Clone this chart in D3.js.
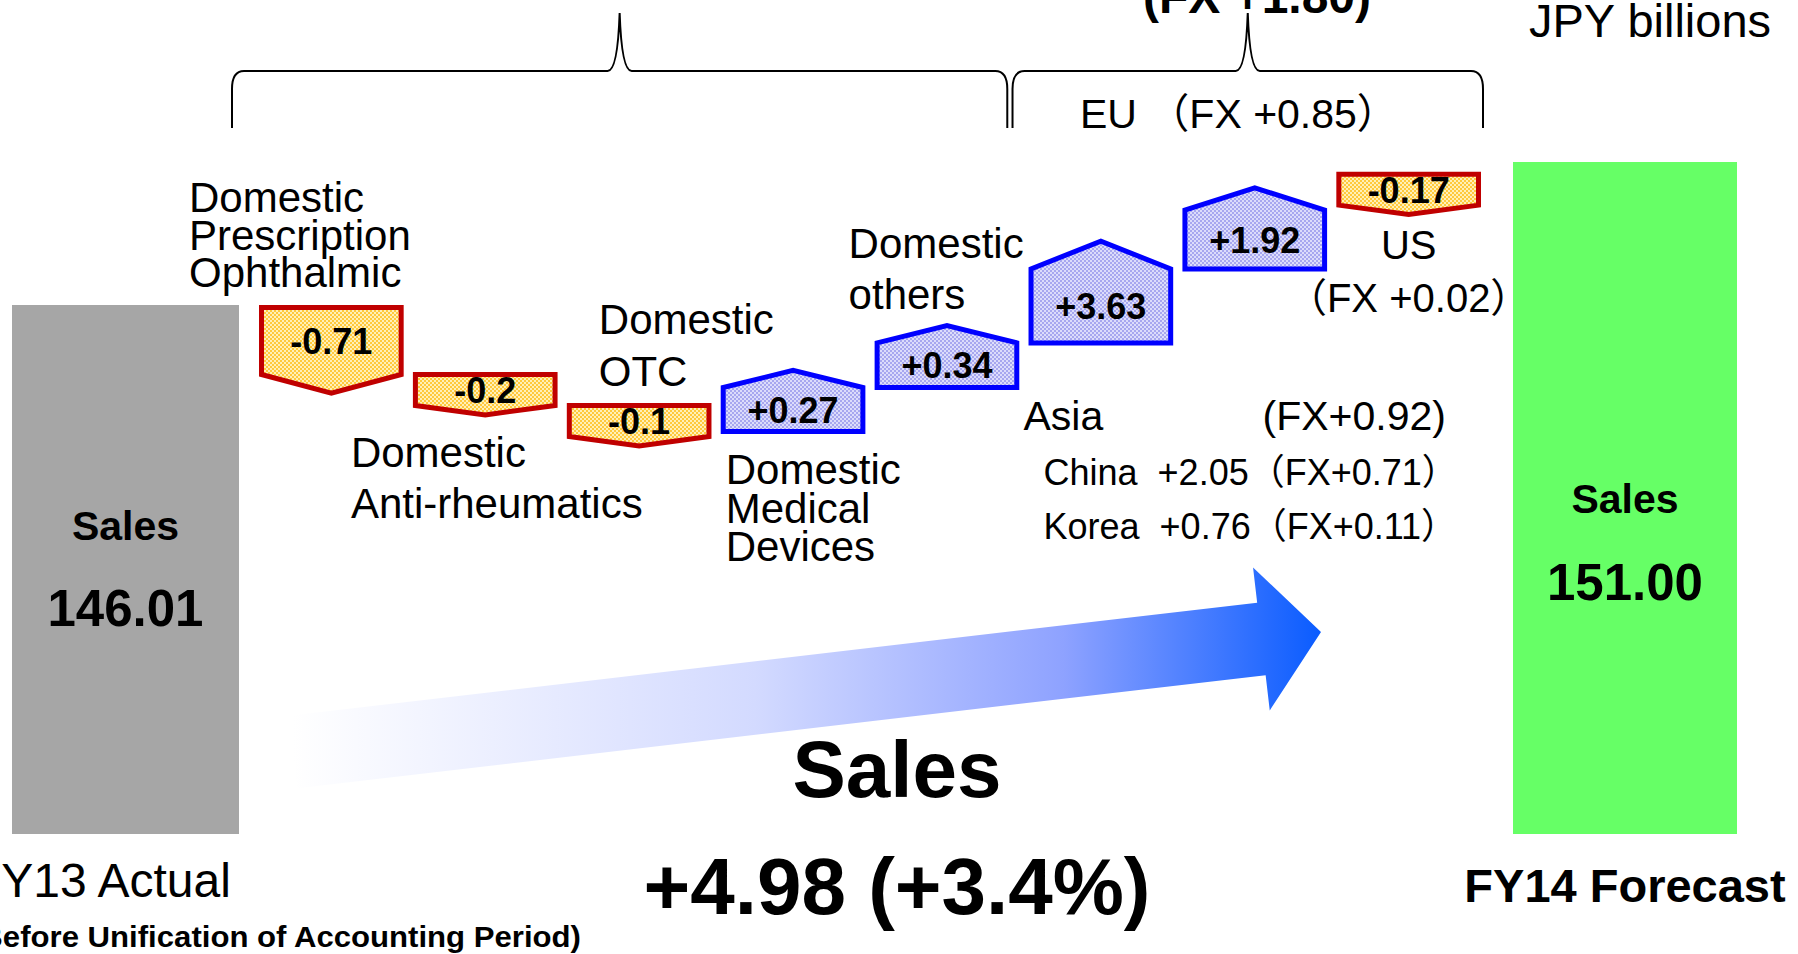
<!DOCTYPE html>
<html>
<head>
<meta charset="utf-8">
<title>Sales FY13 Actual to FY14 Forecast</title>
<script src="https://cdn.jsdelivr.net/npm/d3@7"></script>
<style>
  html, body { margin: 0; padding: 0; background: #fff; overflow: hidden; }
  svg { display: block; font-family: "Liberation Sans", Arial, "Noto Sans CJK JP", sans-serif; }
</style>
</head>
<body>
<script>
// values in JPY billions
var startName = "FY13 Actual", endName = "FY14 Forecast";
var startNote = "(Before Unification of Accounting Period)";
var startValue = 146.01, endValue = 151.00;
var totalLabel = "Sales";
var changeText = "+4.98 (+3.4%)";
var unitText = "JPY billions";

var categories = ["Ophthalmic", "Anti-rheumatics", "OTC", "Medical Devices", "Others", "Asia", "EU", "US"];
var deltas = [-0.71, -0.2, -0.1, 0.27, 0.34, 3.63, 1.92, -0.17];
var deltaText = ["-0.71", "-0.2", "-0.1", "+0.27", "+0.34", "+3.63", "+1.92", "-0.17"];
var catLines = [
  ["Domestic", "Prescription", "Ophthalmic"],
  ["Domestic", "Anti-rheumatics"],
  ["Domestic", "OTC"],
  ["Domestic", "Medical", "Devices"],
  ["Domestic", "others"],
  [],
  [],
  ["US", "（FX +0.02）"]
];
var asiaHead = ["Asia", "(FX+0.92)"];
var asiaBreakdown = ["China\u00a0\u00a0+2.05（FX+0.71）", "Korea\u00a0\u00a0+0.76（FX+0.11）"];
var euText = "EU\u00a0（FX +0.85）";
var overseasFx = "(FX +1.80)";

// ---- layout ----
var W = 1798, H = 954;
var svg = d3.select("body").append("svg").attr("width", W).attr("height", H);
var defs = svg.append("defs");

function checker(id, bg, fg) {
  var p = defs.append("pattern").attr("id", id).attr("width", 4).attr("height", 4)
    .attr("patternUnits", "userSpaceOnUse");
  p.append("rect").attr("width", 4).attr("height", 4).attr("fill", bg);
  p.append("rect").attr("width", 2).attr("height", 2).attr("fill", fg);
  p.append("rect").attr("x", 2).attr("y", 2).attr("width", 2).attr("height", 2).attr("fill", fg);
}
checker("negFill", "#fff0b8", "#ffc93c");
checker("posFill", "#dcdcfb", "#a7a7ef");

var grad = defs.append("linearGradient").attr("id", "arrowGrad")
  .attr("gradientUnits", "userSpaceOnUse").attr("x1", 293).attr("x2", 1321).attr("y1", 0).attr("y2", 0);
[[0, "#ffffff"], [0.45, "#d3daff"], [0.75, "#8ea2ff"], [1, "#0a5cff"]].forEach(function(s) {
  grad.append("stop").attr("offset", s[0]).attr("stop-color", s[1]);
});

var y = d3.scaleLinear().domain([startValue, endValue]).range([305, 162]);
var floorY = 834;
var x = d3.scaleBand().domain(categories).range([259, 1481]).paddingInner(0.06);
var bw = x.bandwidth();
var hNeg = d3.scaleLinear().domain([0.2, 0.71]).range([36, 72]).clamp(true);
var hPos = d3.scaleLinear().domain([0.27, 3.63]).range([49, 79]);
var overlap = 5, sw = 5;

// big arrow behind everything
(function() {
  var T = [293, 752], P = [1321, 632];
  var len = Math.hypot(P[0] - T[0], P[1] - T[1]);
  var u = [(P[0] - T[0]) / len, (P[1] - T[1]) / len], n = [-u[1], u[0]];
  var headLen = 60, shaftHalf = 36.5, headHalf = 72;
  var B = [P[0] - headLen * u[0], P[1] - headLen * u[1]];
  function at(p, k) { return [p[0] + k * n[0], p[1] + k * n[1]]; }
  var pts = [at(T, -shaftHalf), at(B, -shaftHalf), at(B, -headHalf), P, at(B, headHalf), at(B, shaftHalf), at(T, shaftHalf)];
  svg.append("path").attr("d", d3.line()(pts) + "Z").attr("fill", "url(#arrowGrad)");
})();

// total bars
var totals = [
  {name: startName, value: startValue, x0: 12, x1: 239, color: "#a6a6a6", labelY: 540, valueY: 626},
  {name: endName, value: endValue, x0: 1513, x1: 1737, color: "#66ff66", labelY: 513, valueY: 600}
];
svg.selectAll("rect.total").data(totals).enter().append("rect").attr("class", "total")
  .attr("x", function(d) { return d.x0; })
  .attr("y", function(d) { return y(d.value); })
  .attr("width", function(d) { return d.x1 - d.x0; })
  .attr("height", function(d) { return floorY - y(d.value); })
  .attr("fill", function(d) { return d.color; });
totals.forEach(function(d) {
  var cx = (d.x0 + d.x1) / 2;
  svg.append("text").attr("x", cx).attr("y", d.labelY)
    .attr("text-anchor", "middle").attr("font-weight", "bold").attr("font-size", 41).text(totalLabel);
  svg.append("text").attr("x", cx).attr("y", d.valueY)
    .attr("text-anchor", "middle").attr("font-weight", "bold").attr("font-size", 51).text(d.value.toFixed(2));
});
svg.append("text").attr("x", -28).attr("y", 897).attr("font-size", 48).text(startName);
svg.append("text").attr("x", -30).attr("y", 947).attr("font-size", 29).attr("font-weight", "bold")
  .attr("textLength", 611).attr("lengthAdjust", "spacingAndGlyphs").text(startNote);
svg.append("text").attr("x", 1625).attr("y", 902).attr("text-anchor", "middle")
  .attr("font-size", 47).attr("font-weight", "bold").text(endName);

// step shapes, chained from the start bar
var level = y(startValue), steps = [];
deltas.forEach(function(v, i) {
  var neg = v < 0, h = neg ? hNeg(-v) : hPos(v);
  var s = {cat: categories[i], v: v, txt: deltaText[i], h: h, tip: h * (neg ? 0.26 : 0.35), x0: x(categories[i])};
  var prev = i > 0 ? deltas[i - 1] : 0;
  if (neg && prev > 0) {          // a drop after a rise rests on the last top
    s.y1 = level; s.y0 = level - h;
  } else if (neg) {
    s.y0 = i === 0 ? level : level - overlap; s.y1 = s.y0 + h; level = s.y1;
  } else {
    s.y1 = prev < 0 ? level - overlap : level + overlap; s.y0 = s.y1 - h; level = s.y0;
  }
  steps.push(s);
});

function shapePath(s) {
  var a = s.x0 + sw / 2, b = s.x0 + bw - sw / 2, c = s.x0 + bw / 2;
  var t = s.y0 + sw / 2, u = s.y1 - sw / 2;
  if (s.v < 0) return d3.line()([[a, t], [b, t], [b, u], [c, u + s.tip], [a, u]]) + "Z";
  return d3.line()([[a, u], [b, u], [b, t], [c, t - s.tip], [a, t]]) + "Z";
}
svg.selectAll("path.step").data(steps).enter().append("path").attr("class", "step")
  .attr("d", shapePath)
  .attr("fill", function(d) { return d.v < 0 ? "url(#negFill)" : "url(#posFill)"; })
  .attr("stroke", function(d) { return d.v < 0 ? "#c00000" : "#0000ff"; })
  .attr("stroke-width", sw).attr("stroke-linejoin", "miter");
svg.selectAll("text.val").data(steps).enter().append("text").attr("class", "val")
  .attr("x", function(d) { return d.x0 + bw / 2; })
  .attr("y", function(d) { return (d.y0 + d.y1) / 2 + 13; })
  .attr("text-anchor", "middle").attr("font-weight", "bold").attr("font-size", 36)
  .text(function(d) { return d.txt; });

// category labels, placed against their shape
var labelPos = {
  "Ophthalmic":      {ref: "top", dx: -70, dy: -93, lh: 37.5},
  "Anti-rheumatics": {ref: "tip", dx: -62, dy: 50, lh: 51},
  "OTC":             {ref: "top", dx: 32, dy: -69, lh: 52},
  "Medical Devices": {ref: "tip", dx: 5, dy: 50, lh: 38.5},
  "Others":          {ref: "tip", dx: -26, dy: -65, lh: 51},
  "US":              {ref: "tip", dx: bw / 2, dy: 42, lh: 53, anchor: "middle", size: 40}
};
steps.forEach(function(s, i) {
  var lp = labelPos[s.cat];
  if (!lp) return;
  var refY = lp.ref === "top" ? s.y0 : (s.v < 0 ? s.y1 + s.tip : s.y0 - s.tip);
  if (lp.ref === "tip" && s.v > 0 && lp.dy > 0) refY = s.y1;
  var t = svg.append("text").attr("font-size", lp.size || 42).attr("text-anchor", lp.anchor || "start");
  catLines[i].forEach(function(line, k) {
    t.append("tspan").attr("x", s.x0 + lp.dx).attr("y", refY + lp.dy + k * lp.lh).text(line);
  });
});

// Asia breakdown under its shape
var asia = steps[categories.indexOf("Asia")];
svg.append("text").attr("x", asia.x0 - 5).attr("y", asia.y1 + 85).attr("font-size", 41).text(asiaHead[0]);
svg.append("text").attr("x", asia.x0 + 234).attr("y", asia.y1 + 85).attr("font-size", 41).text(asiaHead[1]);
asiaBreakdown.forEach(function(line, k) {
  svg.append("text").attr("x", asia.x0 + 15).attr("y", asia.y1 + 140 + k * 54).attr("font-size", 36).text(line);
});

// braces grouping domestic and overseas
function brace(x1, x2) {
  var m = (x1 + x2) / 2, top = 13, bar = 71, foot = 128;
  return "M" + x1 + "," + foot + " L" + x1 + "," + (bar + 18) +
    " Q" + x1 + "," + bar + " " + (x1 + 12) + "," + bar +
    " L" + (m - 12) + "," + bar + " Q" + (m - 2) + "," + bar + " " + m + "," + top +
    " Q" + (m + 2) + "," + bar + " " + (m + 12) + "," + bar +
    " L" + (x2 - 12) + "," + bar + " Q" + x2 + "," + bar + " " + x2 + "," + (bar + 18) +
    " L" + x2 + "," + foot;
}
svg.append("path").attr("d", brace(x("Ophthalmic") - 27, x("Others") + bw - 12))
  .attr("fill", "none").attr("stroke", "#000").attr("stroke-width", 2);
svg.append("path").attr("d", brace(x("Asia") - 16, x("US") + bw + 2))
  .attr("fill", "none").attr("stroke", "#000").attr("stroke-width", 2);
svg.append("text").attr("x", 1080).attr("y", 128).attr("font-size", 41).text(euText);
svg.append("text").attr("x", 1257).attr("y", 13).attr("text-anchor", "middle")
  .attr("font-size", 48).attr("font-weight", "bold").text(overseasFx);
svg.append("text").attr("x", 1529).attr("y", 37).attr("font-size", 47).text(unitText);

// overall change
svg.append("text").attr("x", 897).attr("y", 797).attr("text-anchor", "middle")
  .attr("font-size", 80).attr("font-weight", "bold").text(totalLabel);
svg.append("text").attr("x", 897).attr("y", 914).attr("text-anchor", "middle")
  .attr("font-size", 80).attr("font-weight", "bold").text(changeText);
</script>
</body>
</html>
